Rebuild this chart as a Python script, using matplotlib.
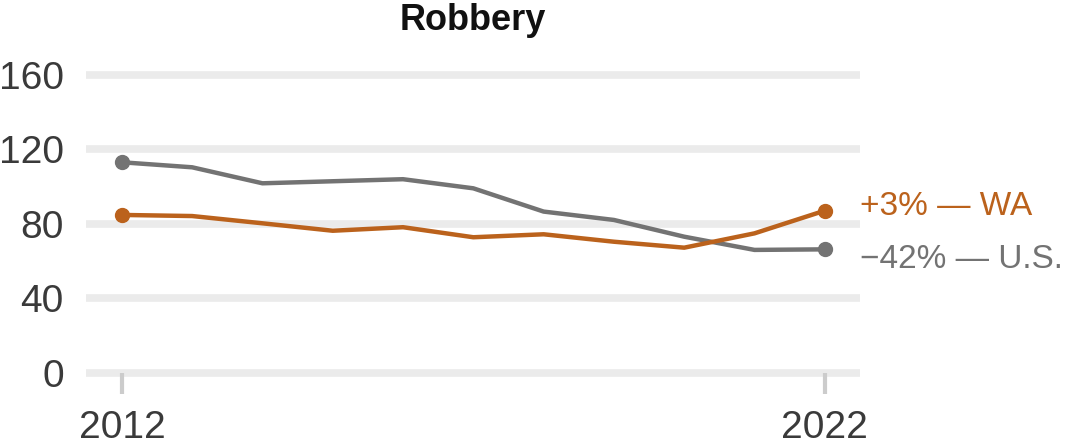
import matplotlib
matplotlib.use("Agg")
import matplotlib.pyplot as plt

plt.rcParams['font.family'] = ['Liberation Sans', 'DejaVu Sans']

# donnees (taux pour 100 000 habitants)
years = [2012, 2013, 2014, 2015, 2016, 2017, 2018, 2019, 2020, 2021, 2022]
us_values = [113.1, 110.4, 101.8, 102.9, 104.0, 99.1, 86.6, 82.1, 73.1, 66.0, 66.3]
wa_values = [84.8, 84.2, 80.3, 76.3, 78.2, 72.8, 74.4, 70.4, 67.2, 74.9, 87.1]
y_ticks = [0, 40, 80, 120, 160]
x_ticks = [2012, 2022]
title = "Robbery"
wa_label = "+3% \u2014 WA"
us_label = "\u221242% \u2014 U.S."

gray = "#737373"
orange = "#bb621c"
text_color = "#3a3a3a"

fig = plt.figure(figsize=(10.66, 4.47), dpi=100)
ax = fig.add_axes([0.0807, 0.1662, 0.726, 0.6868])

# lignes de grille
for t in y_ticks:
    ax.axhline(t, color="#ebebeb", linewidth=5.5, zorder=0, clip_on=False,
               solid_capstyle="butt")

ax.plot(years, us_values, color=gray, linewidth=3.2, zorder=3, clip_on=False)
ax.plot(years, wa_values, color=orange, linewidth=3.2, zorder=4, clip_on=False)
ax.plot([years[0], years[-1]], [us_values[0], us_values[-1]], 'o', color=gray,
        markersize=10, zorder=5, clip_on=False)
ax.plot([years[0], years[-1]], [wa_values[0], wa_values[-1]], 'o', color=orange,
        markersize=10, zorder=5, clip_on=False)

ax.annotate(wa_label, xy=(years[-1], wa_values[-1]), xytext=(25, 3),
            textcoords="offset points", color=orange, fontsize=24,
            va="center", ha="left", annotation_clip=False)
ax.annotate(us_label, xy=(years[-1], us_values[-1]), xytext=(25, -7),
            textcoords="offset points", color=gray, fontsize=24,
            va="center", ha="left", annotation_clip=False)

ax.set_xlim(2011.49, 2022.5)
ax.set_ylim(0, 165)
ax.set_xticks(x_ticks)
ax.set_yticks(y_ticks)
ax.tick_params(axis="x", direction="out", length=15, width=3, color="#cccccc",
               pad=12, labelsize=28, labelcolor=text_color)
ax.tick_params(axis="y", length=0, pad=16, labelsize=28, labelcolor=text_color)
for s in ax.spines.values():
    s.set_visible(False)

ax.set_title(title, fontsize=26, fontweight="bold", color="#111111", pad=26)

fig.savefig("out.png", dpi=100)
